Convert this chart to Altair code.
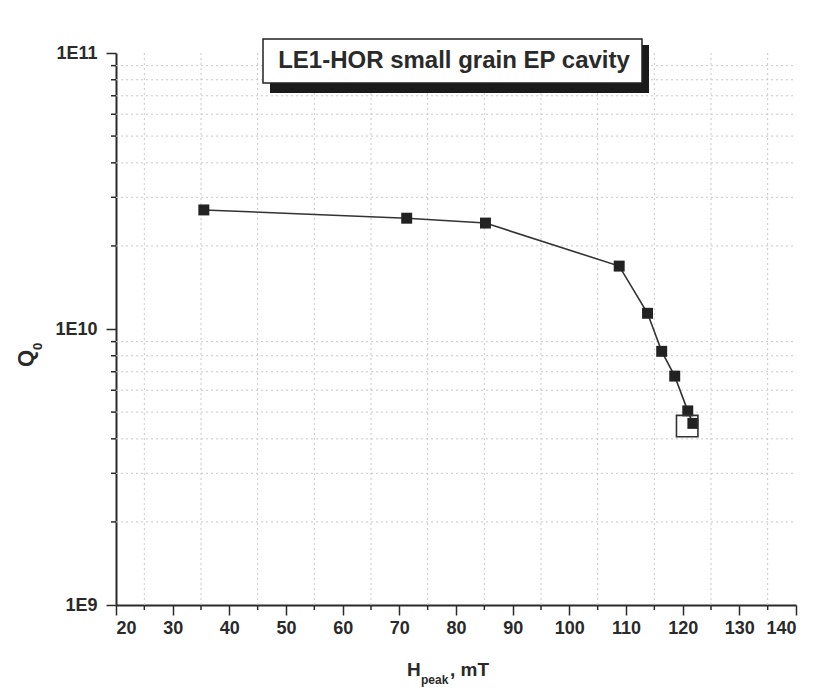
import altair as alt
import pandas as pd

# Measured field / quality-factor points
h_peak = [35.5, 71.3, 85.2, 108.8, 113.8, 116.3, 118.6, 120.9, 121.8]
q0 = [2.70e10, 2.52e10, 2.42e10, 1.69e10, 1.14e10, 8.3e9, 6.75e9, 5.05e9, 4.55e9]

# Highlighted final point (open marker)
last_h = [120.8]
last_q = [4.45e9]

x_major = list(range(20, 141, 10))
x_minor = list(range(25, 136, 10))
y_major = [1e9, 1e10, 1e11]
y_minor = [m * 10 ** e for e in (9, 10) for m in range(2, 10)]

title_text = "LE1-HOR small grain EP cavity"

W, H = 680, 552
FONT = "Liberation Sans"
INK = "#2a2a2a"

pts = pd.DataFrame({"h": h_peak, "q": q0})
last = pd.DataFrame({"h": last_h, "q": last_q})

xs = alt.Scale(domain=[20, 140], nice=False, zero=False)
ys = alt.Scale(type="log", domain=[1e9, 1e11], nice=False)

x_axis = alt.Axis(values=x_major, format="d", title=None)
y_axis = alt.Axis(values=y_major, title=None,
                  labelExpr="'1E' + round(log(datum.value) / LN10)")

# faint dotted grid
vgrid = alt.Chart(pd.DataFrame({"h": x_minor})).mark_rule(
    color="#c8c8c8", strokeDash=[2, 3], strokeWidth=1
).encode(x=alt.X("h:Q", scale=xs, axis=x_axis), y=alt.value(0), y2=alt.value(H))

hgrid = alt.Chart(pd.DataFrame({"q": y_minor})).mark_rule(
    color="#c8c8c8", strokeDash=[2, 3], strokeWidth=1
).encode(y=alt.Y("q:Q", scale=ys, axis=y_axis), x=alt.value(0), x2=alt.value(W))

# minor ticks on both axes
yminor_ticks = alt.Chart(pd.DataFrame({"q": y_minor})).mark_rule(
    color=INK, strokeWidth=1.5
).encode(y=alt.Y("q:Q", scale=ys, axis=y_axis), x=alt.value(-5), x2=alt.value(0))

xminor_ticks = alt.Chart(pd.DataFrame({"h": x_minor})).mark_rule(
    color=INK, strokeWidth=1.5
).encode(x=alt.X("h:Q", scale=xs, axis=x_axis), y=alt.value(H), y2=alt.value(H + 5))

line = alt.Chart(pts).mark_line(color="#333333", strokeWidth=1.6).encode(
    x=alt.X("h:Q", scale=xs, axis=x_axis), y=alt.Y("q:Q", scale=ys, axis=y_axis))

squares = alt.Chart(pts).mark_point(
    shape="square", filled=True, size=120, color="#222222", opacity=1
).encode(x=alt.X("h:Q", scale=xs, axis=x_axis), y=alt.Y("q:Q", scale=ys, axis=y_axis))

open_sq = alt.Chart(last).mark_point(
    shape="square", filled=False, size=460, color="#333333", strokeWidth=1.6, opacity=1
).encode(x=alt.X("h:Q", scale=xs, axis=x_axis), y=alt.Y("q:Q", scale=ys, axis=y_axis))

# boxed heading with drop shadow
shadow = alt.Chart(pd.DataFrame({"t": [title_text]})).mark_rect(color="#1a1a1a").encode(
    x=alt.value(154), x2=alt.value(533), y=alt.value(-8), y2=alt.value(40))
box = alt.Chart(pd.DataFrame({"t": [title_text]})).mark_rect(
    fill="white", stroke="#222222", strokeWidth=1.5).encode(
    x=alt.value(147), x2=alt.value(526), y=alt.value(-14), y2=alt.value(30))
head = alt.Chart(pd.DataFrame({"t": [title_text]})).mark_text(
    font=FONT, fontWeight="bold", fontSize=24, color=INK, align="center", baseline="middle"
).encode(text="t:N", x=alt.value(338), y=alt.value(8))

# axis titles with subscripts
def label(txt, x, y, size, angle=0, align="left"):
    kw = dict(font=FONT, fontWeight="bold", fontSize=size, color=INK,
              align=align, baseline="alphabetic")
    if angle:
        kw["angle"] = angle
    return alt.Chart(pd.DataFrame({"t": [txt]})).mark_text(**kw).encode(
        text="t:N", x=alt.value(x), y=alt.value(y))

xt_h = label("H", 291, 623, 19)
xt_sub = label("peak", 305, 631, 12)
xt_rest = label(", mT", 334, 623, 19)

yt_q = label("Q", -83, 314, 22, angle=270)
yt_sub = label("0", -74, 297, 13, angle=270)

chart = alt.layer(
    vgrid, hgrid, yminor_ticks, xminor_ticks, line, squares, open_sq,
    shadow, box, head, xt_h, xt_sub, xt_rest, yt_q, yt_sub
).properties(
    width=W, height=H,
    background="white",
    autosize=alt.AutoSizeParams(type="none"),
    padding={"left": 116, "top": 53, "right": 20, "bottom": 86},
).configure_axis(
    grid=False, tickSize=10, tickWidth=1.5, tickColor=INK,
    domainWidth=2, domainColor=INK,
    labelFont=FONT, labelFontWeight="bold", labelFontSize=18,
    labelColor=INK,
).configure_axisX(labelPadding=4).configure_axisY(labelPadding=9
).configure_view(stroke=None)

chart.save("out.html", embed_options={"renderer": "svg", "actions": False})
